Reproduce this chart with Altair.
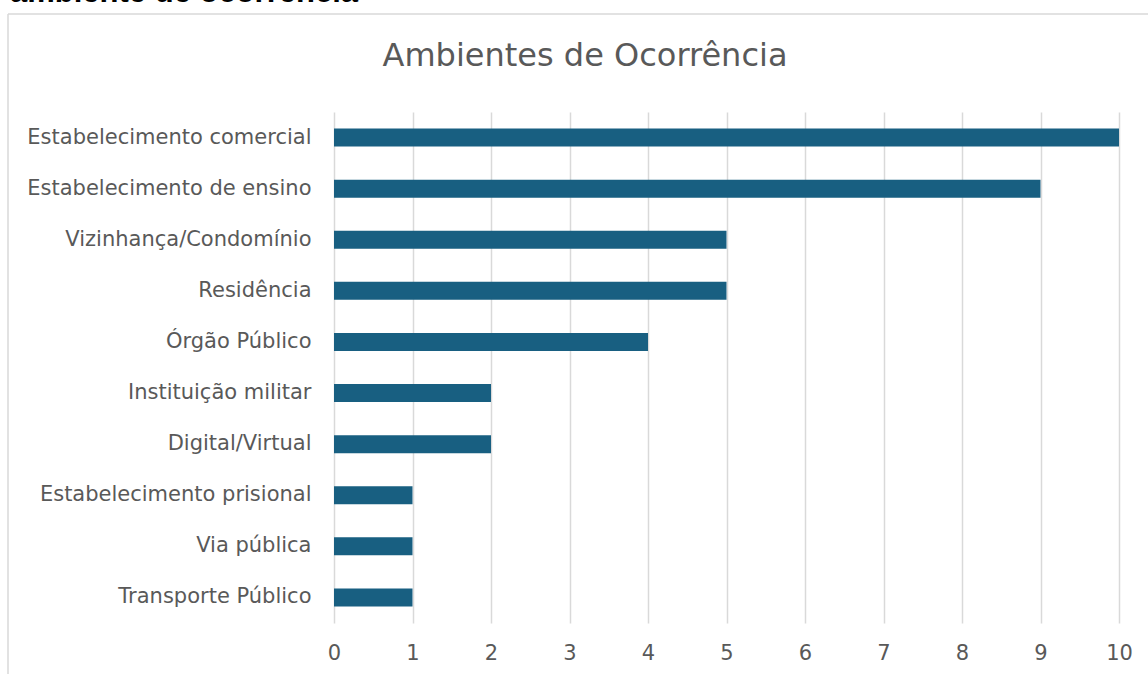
import altair as alt
import pandas as pd

categorias = [
    "Estabelecimento comercial",
    "Estabelecimento de ensino",
    "Vizinhança/Condomínio",
    "Residência",
    "Órgão Público",
    "Instituição militar",
    "Digital/Virtual",
    "Estabelecimento prisional",
    "Via pública",
    "Transporte Público",
]
valores = [10, 9, 5, 5, 4, 2, 2, 1, 1, 1]
x_ticks = list(range(0, 11))

titulo = "Ambientes de Ocorrência"
legenda_cortada = "ambiente de ocorrência"

df = pd.DataFrame({"ambiente": categorias, "valor": valores})
one = pd.DataFrame({"k": [0]})

FONT = "DejaVu Sans"
GRAY = "#595959"

bars = alt.Chart(df).mark_bar(color="#185F81", size=18).encode(
    x=alt.X(
        "valor:Q",
        scale=alt.Scale(domain=[0, 10], nice=False),
        axis=alt.Axis(
            values=x_ticks, grid=True, gridColor="#d9d9d9", gridWidth=1.5,
            domain=False, ticks=False, labelFontSize=21, labelColor=GRAY,
            labelFont=FONT, labelPadding=19, labelFlush=False, title=None,
        ),
    ),
    y=alt.Y(
        "ambiente:N",
        sort=categorias,
        axis=alt.Axis(
            domain=False, ticks=False, labelFontSize=21, labelColor=GRAY,
            labelFont=FONT, labelPadding=23, title=None, labelLimit=500,
            grid=False,
        ),
    ),
)

title_mark = alt.Chart(one).mark_text(
    text=titulo, font=FONT, fontSize=32, color=GRAY, align="center", baseline="alphabetic"
).encode(x=alt.value(251), y=alt.value(-46))

cut_text = alt.Chart(one).mark_text(
    text=legenda_cortada, font="Liberation Sans", fontWeight="bold", fontSize=31,
    color="#000000", align="left", baseline="alphabetic"
).encode(x=alt.value(-324), y=alt.value(-110))

border_left = alt.Chart(one).mark_rule(color="#d9d9d9", strokeWidth=1.5).encode(
    x=alt.value(-326), y=alt.value(-98), y2=alt.value(600)
)
border_top = alt.Chart(one).mark_rule(color="#d9d9d9", strokeWidth=1.5).encode(
    x=alt.value(-326), x2=alt.value(900), y=alt.value(-98)
)

chart = alt.layer(border_left, border_top, cut_text, title_mark, bars).properties(
    width=785,
    height=511,
    padding={"left": 334, "top": 112, "right": 29, "bottom": 51},
    autosize=alt.AutoSizeParams(type="none"),
    background="#ffffff",
).configure_view(strokeWidth=0)

chart.save("out.html", embed_options={"renderer": "svg", "actions": False})
